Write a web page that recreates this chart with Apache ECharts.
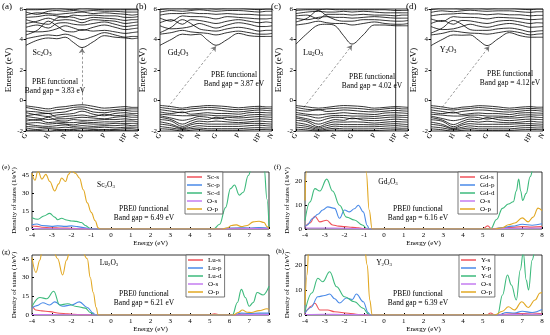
<!DOCTYPE html>
<html><head><meta charset="utf-8">
<script src="https://cdn.jsdelivr.net/npm/echarts@6/dist/echarts.min.js"></script>
<style>html,body{margin:0;padding:0;background:#fff}#c{width:550px;height:335px}</style>
</head><body><div id="c"></div>
<script>
// ---------- band-structure data ----------
const KX = [0,0.1,0.2,0.275,0.35,0.425,0.5,0.6,0.7,0.795,0.89,0.945,1];
const KTICKS = [0,0.2,0.35,0.5,0.7,0.89,1];
const KLABELS = ['G','H','N','G','P','HP','N'];
const HP_K = 0.89;

const CB_A = [
[3.62,3.95,4.10,4.05,4.15,3.80,3.47,3.85,4.25,4.15,4.10,4.05,4.10],
[4.05,4.20,4.30,4.25,4.35,4.20,4.00,4.20,4.45,4.30,4.15,4.20,4.20],
[4.30,4.60,5.20,4.90,4.55,4.50,4.65,4.55,4.60,4.50,4.40,4.45,4.50],
[4.55,4.50,4.55,4.70,4.90,4.75,4.60,4.80,4.95,4.80,4.65,4.70,4.75],
[4.80,4.95,4.75,5.05,5.10,5.00,4.95,5.05,5.15,5.00,4.85,4.90,4.95],
[5.05,5.20,5.40,5.25,5.30,5.25,5.10,5.30,5.25,5.20,5.05,5.10,5.15],
[5.30,5.10,5.00,5.40,5.50,5.45,5.30,5.45,5.40,5.35,5.25,5.30,5.30],
[5.45,5.50,5.60,5.55,5.45,5.60,5.55,5.60,5.55,5.55,5.45,5.45,5.50],
[5.60,5.75,5.70,5.65,5.70,5.75,5.80,5.70,5.75,5.70,5.65,5.60,5.65],
[5.80,5.65,5.85,5.90,5.85,5.90,5.85,5.90,5.85,5.85,5.80,5.80,5.80],
[5.95,5.95,6.00,6.05,6.00,5.95,6.05,6.00,5.95,5.95,5.95,5.95,5.95]
];
const VB_A = [
[-0.35,-0.45,-0.55,-0.45,-0.40,-0.32,-0.28,-0.38,-0.50,-0.45,-0.40,-0.45,-0.45],
[-0.45,-0.60,-0.70,-0.60,-0.55,-0.45,-0.42,-0.55,-0.65,-0.60,-0.55,-0.55,-0.55],
[-0.70,-0.75,-0.85,-0.80,-0.75,-0.60,-0.55,-0.75,-0.80,-0.70,-0.65,-0.70,-0.70],
[-0.80,-0.95,-1.05,-0.95,-0.90,-0.85,-0.70,-0.90,-1.00,-0.85,-0.80,-0.85,-0.85],
[-1.00,-0.90,-0.85,-1.10,-1.05,-1.00,-0.95,-1.05,-0.90,-1.00,-0.95,-0.95,-1.00],
[-1.05,-1.15,-1.25,-1.20,-1.20,-1.15,-1.10,-1.15,-1.20,-1.10,-1.05,-1.10,-1.10],
[-1.20,-1.30,-1.10,-1.30,-1.35,-1.25,-1.30,-1.30,-1.25,-1.25,-1.20,-1.25,-1.25],
[-1.35,-1.25,-1.45,-1.40,-1.45,-1.45,-1.40,-1.45,-1.40,-1.40,-1.35,-1.35,-1.40],
[-1.50,-1.45,-1.55,-1.50,-1.55,-1.60,-1.50,-1.55,-1.55,-1.50,-1.50,-1.50,-1.50],
[-1.55,-1.65,-1.70,-1.65,-1.60,-1.70,-1.65,-1.70,-1.65,-1.65,-1.60,-1.65,-1.60],
[-1.70,-1.75,-1.80,-1.80,-1.75,-1.80,-1.80,-1.80,-1.75,-1.80,-1.75,-1.75,-1.75],
[-1.80,-1.90,-1.85,-1.90,-1.90,-1.90,-1.85,-1.90,-1.90,-1.90,-1.85,-1.85,-1.90],
[-1.95,-1.95,-2.05,-1.95,-2.00,-1.95,-2.00,-1.95,-2.00,-1.95,-1.95,-1.95,-1.95]
];
const CB_B = [
[3.62,4.00,4.35,4.30,4.35,3.95,3.62,4.00,4.40,4.25,4.20,4.20,4.20],
[4.35,4.45,4.60,4.50,4.45,4.40,4.30,4.45,4.55,4.45,4.35,4.35,4.40],
[4.45,4.80,5.30,5.05,4.70,4.60,4.55,4.70,4.80,4.70,4.55,4.60,4.60],
[4.90,4.70,4.75,4.85,5.05,4.90,4.75,4.95,5.10,5.00,4.85,4.85,4.90],
[5.10,5.30,5.00,5.30,5.25,5.15,5.05,5.20,5.30,5.20,5.10,5.15,5.10],
[5.40,5.20,5.55,5.50,5.50,5.45,5.35,5.50,5.45,5.40,5.35,5.35,5.40],
[5.60,5.70,5.70,5.75,5.70,5.70,5.65,5.70,5.65,5.65,5.60,5.60,5.60],
[5.80,5.90,5.85,5.90,5.95,5.90,5.85,5.90,5.90,5.85,5.80,5.85,5.85],
[5.95,6.05,6.05,6.00,6.05,6.05,6.00,6.05,6.05,6.00,5.95,6.00,6.00]
];
const VB_B = [
[-0.32,-0.40,-0.50,-0.42,-0.38,-0.33,-0.35,-0.40,-0.48,-0.42,-0.38,-0.42,-0.42],
[-0.45,-0.55,-0.60,-0.55,-0.50,-0.45,-0.48,-0.55,-0.60,-0.55,-0.50,-0.52,-0.55],
[-0.60,-0.70,-0.80,-0.70,-0.65,-0.60,-0.62,-0.70,-0.75,-0.68,-0.62,-0.65,-0.68],
[-0.75,-0.85,-0.75,-0.90,-0.85,-0.80,-0.85,-0.85,-0.90,-0.80,-0.78,-0.80,-0.82],
[-0.90,-0.95,-1.00,-1.00,-0.95,-0.95,-1.00,-1.00,-1.05,-0.95,-0.92,-0.95,-0.95],
[-1.00,-1.15,-1.30,-1.20,-1.05,-1.10,-1.20,-1.10,-1.15,-1.10,-1.05,-1.08,-1.10],
[-1.10,-1.25,-1.55,-1.35,-1.20,-1.25,-1.10,-1.25,-1.30,-1.25,-1.20,-1.22,-1.25],
[-1.25,-1.35,-1.70,-1.50,-1.35,-1.40,-1.35,-1.40,-1.45,-1.40,-1.35,-1.38,-1.40],
[-1.40,-1.55,-1.80,-1.60,-1.50,-1.55,-1.55,-1.55,-1.55,-1.50,-1.50,-1.52,-1.55],
[-1.55,-1.65,-1.85,-1.75,-1.65,-1.70,-1.70,-1.70,-1.70,-1.65,-1.62,-1.65,-1.68],
[-1.70,-1.80,-1.90,-1.85,-1.80,-1.85,-1.85,-1.85,-1.85,-1.80,-1.78,-1.80,-1.80],
[-1.85,-1.90,-2.00,-1.95,-1.90,-1.95,-1.95,-1.95,-1.95,-1.92,-1.90,-1.90,-1.92]
];
const CB_C = [
[3.70,4.40,4.95,5.00,4.90,4.25,3.70,4.30,4.95,4.95,4.90,4.90,4.90],
[4.95,5.05,5.20,5.10,5.05,5.05,4.95,5.05,5.15,5.05,5.00,5.00,5.05],
[5.15,5.40,5.90,5.55,5.30,5.20,5.20,5.30,5.30,5.25,5.20,5.20,5.25],
[5.40,5.30,5.45,5.50,5.45,5.45,5.40,5.45,5.50,5.45,5.40,5.40,5.40],
[5.55,5.60,5.35,5.65,5.65,5.65,5.60,5.65,5.60,5.60,5.55,5.60,5.60],
[5.70,5.80,5.85,5.80,5.80,5.85,5.80,5.85,5.80,5.75,5.75,5.75,5.75],
[5.90,5.95,5.95,6.00,5.95,5.95,5.95,5.95,5.95,5.95,5.90,5.90,5.90]
];
const VB_C = [
[-0.33,-0.42,-0.50,-0.45,-0.38,-0.33,-0.35,-0.40,-0.50,-0.45,-0.40,-0.42,-0.45],
[-0.45,-0.58,-0.62,-0.55,-0.52,-0.48,-0.50,-0.55,-0.62,-0.55,-0.50,-0.55,-0.55],
[-0.62,-0.70,-0.60,-0.72,-0.68,-0.62,-0.65,-0.72,-0.75,-0.70,-0.65,-0.68,-0.70],
[-0.78,-0.90,-0.95,-0.88,-0.85,-0.80,-0.85,-0.88,-0.92,-0.82,-0.80,-0.82,-0.85],
[-0.92,-1.00,-1.15,-1.05,-0.98,-0.98,-1.02,-1.02,-1.05,-0.98,-0.95,-0.98,-0.98],
[-1.05,-1.20,-1.35,-1.20,-1.10,-1.12,-1.20,-1.15,-1.18,-1.12,-1.08,-1.10,-1.12],
[-1.15,-1.30,-1.55,-1.40,-1.25,-1.30,-1.15,-1.28,-1.32,-1.28,-1.22,-1.25,-1.28],
[-1.30,-1.40,-1.72,-1.52,-1.40,-1.42,-1.40,-1.42,-1.48,-1.42,-1.38,-1.40,-1.42],
[-1.45,-1.58,-1.80,-1.65,-1.55,-1.58,-1.58,-1.58,-1.60,-1.55,-1.52,-1.55,-1.58],
[-1.60,-1.70,-1.88,-1.78,-1.68,-1.72,-1.72,-1.72,-1.72,-1.68,-1.65,-1.68,-1.70],
[-1.75,-1.82,-1.95,-1.88,-1.82,-1.86,-1.86,-1.86,-1.86,-1.82,-1.80,-1.82,-1.82],
[-1.88,-1.93,-2.02,-1.97,-1.93,-1.96,-1.96,-1.96,-1.97,-1.94,-1.92,-1.92,-1.94]
];
const CB_D = [
[3.60,4.00,4.30,4.28,4.30,3.95,3.60,4.05,4.45,4.25,4.15,4.15,4.15],
[4.30,4.40,4.55,4.48,4.42,4.40,4.35,4.45,4.55,4.45,4.30,4.35,4.38],
[4.42,4.75,5.25,5.00,4.65,4.60,4.60,4.70,4.75,4.65,4.50,4.55,4.58],
[4.85,4.65,4.70,4.85,5.00,4.88,4.80,4.95,5.05,4.95,4.80,4.82,4.85],
[5.05,5.25,5.00,5.25,5.22,5.12,5.05,5.20,5.25,5.15,5.05,5.10,5.08],
[5.35,5.18,5.50,5.45,5.45,5.42,5.35,5.45,5.42,5.38,5.30,5.32,5.35],
[5.55,5.65,5.68,5.72,5.68,5.68,5.62,5.68,5.62,5.62,5.55,5.58,5.58],
[5.78,5.88,5.82,5.88,5.92,5.88,5.85,5.88,5.88,5.82,5.78,5.82,5.82],
[5.95,6.05,6.05,6.00,6.05,6.05,6.00,6.05,6.05,6.00,5.95,6.00,6.00]
];
const VB_D = [
[-0.33,-0.42,-0.52,-0.44,-0.40,-0.34,-0.36,-0.42,-0.50,-0.44,-0.40,-0.44,-0.44],
[-0.46,-0.56,-0.62,-0.56,-0.52,-0.46,-0.50,-0.56,-0.62,-0.56,-0.52,-0.54,-0.56],
[-0.62,-0.72,-0.82,-0.72,-0.66,-0.62,-0.64,-0.72,-0.76,-0.70,-0.64,-0.66,-0.70],
[-0.76,-0.86,-0.76,-0.92,-0.86,-0.82,-0.86,-0.86,-0.92,-0.82,-0.80,-0.82,-0.84],
[-0.90,-0.96,-1.02,-1.02,-0.96,-0.96,-1.02,-1.02,-1.06,-0.96,-0.94,-0.96,-0.96],
[-1.02,-1.18,-1.32,-1.22,-1.08,-1.12,-1.22,-1.12,-1.16,-1.12,-1.06,-1.10,-1.12],
[-1.12,-1.28,-1.58,-1.38,-1.22,-1.26,-1.12,-1.26,-1.32,-1.26,-1.22,-1.24,-1.26],
[-1.26,-1.36,-1.72,-1.52,-1.36,-1.42,-1.36,-1.42,-1.46,-1.42,-1.36,-1.40,-1.42],
[-1.42,-1.56,-1.82,-1.62,-1.52,-1.56,-1.56,-1.56,-1.56,-1.52,-1.52,-1.54,-1.56],
[-1.56,-1.66,-1.86,-1.76,-1.66,-1.72,-1.72,-1.72,-1.72,-1.66,-1.64,-1.66,-1.68],
[-1.72,-1.80,-1.92,-1.86,-1.80,-1.86,-1.86,-1.86,-1.86,-1.80,-1.78,-1.80,-1.80],
[-1.86,-1.92,-2.02,-1.96,-1.92,-1.96,-1.96,-1.96,-1.96,-1.92,-1.90,-1.90,-1.92]
];
// band-gap arrows (k, eV)
const ARROW_A = [[0.5,-0.25],[0.5,3.42]];
const ARROW_B = [[0.07,-0.45],[0.5,3.55]];
const ARROW_C = [[0.07,-0.45],[0.5,3.62]];
const ARROW_D = [[0.1,-0.45],[0.52,3.55]];
const GAP_PBE = ['3.83','3.87','4.02','4.12'];

// ---------- DOS data [E (eV), DOS (1/eV)] ----------
const SC_S = [[-4,2.5],[-3.75,2.2],[-3.5,1.5],[-3,1.1],[-2.5,0.8],[-2,0.6],[-1.5,0.3],[-1.2,0.1],[-1,0],[5.5,0],[6,0.4],[6.5,0.6],[7,0.5],[7.5,0.7],[8,0.4]];
const SC_P = [[-4,3.5],[-3.75,4.2],[-3.5,3],[-3,2.2],[-2.7,2.6],[-2.3,2.2],[-2,2.6],[-1.7,2],[-1.4,1.2],[-1.1,0.4],[-0.9,0],[5.4,0],[6,0.8],[6.5,1],[7,0.9],[7.5,1.2],[8,0.8]];
const SC_D = [[-4,9.5],[-3.7,8.2],[-3.4,11],[-3.1,13.2],[-2.85,10],[-2.7,7.8],[-2.5,9],[-2.25,7.6],[-2,6.8],[-1.75,6.4],[-1.5,5.5],[-1.3,3],[-1.1,0.8],[-0.9,0],[5.2,0],[5.5,4],[5.8,18],[6.05,34],[6.25,37],[6.5,28.5],[6.7,31],[6.95,45],[7.2,56],[7.5,58],[7.75,52],[7.9,25],[8,2]];
const SC_OS = [[-4,0.3],[-3,0.2],[-2,0.2],[-1,0.05],[-0.8,0],[5.5,0],[6,0.2],[7,0.3],[8,0.2]];
const SC_OP = [[-4,47],[-3.85,41],[-3.7,49],[-3.5,42],[-3.3,46],[-3.1,40],[-2.85,32],[-2.65,38],[-2.5,43],[-2.3,40],[-2.15,46],[-2,49],[-1.8,47],[-1.6,43],[-1.4,33],[-1.2,22],[-1,14],[-0.8,7],[-0.65,1],[-0.55,0],[5.6,0],[5.9,1],[6.1,3],[6.35,3.5],[6.6,2],[6.9,3],[7.2,6],[7.5,6.5],[7.75,5.5],[7.9,2],[8,0.5]];

const GD_S = [[-4,0.8],[-3.75,2.5],[-3.5,5.4],[-3.25,3],[-2.9,3.7],[-2.6,1.7],[-2.3,1.2],[-2,1],[-1.6,0.7],[-1.3,0.5],[-1,0.1],[-0.8,0],[5,0],[5.25,1.3],[5.45,0],[5.8,0.3],[6.3,0.6],[7,1],[7.5,0.8],[8,1]];
const GD_P = [[-4,1],[-3.9,1.7],[-3.6,4.5],[-3.35,6.2],[-3.1,8],[-2.85,9.3],[-2.5,8.7],[-2.25,4.5],[-2,8],[-1.75,7.2],[-1.5,8.5],[-1.3,10],[-1.05,7.2],[-0.85,1.5],[-0.75,0],[5.5,0],[6,0.6],[6.5,1.2],[7,2],[7.5,1.6],[8,2.2]];
const GD_D = [[-4,3.5],[-3.75,11.4],[-3.5,17],[-3.25,16],[-2.9,21],[-2.6,16],[-2.25,10],[-1.9,5],[-1.5,3.8],[-1.1,1.7],[-0.85,0.2],[-0.75,0],[5.4,0],[5.7,4],[6,8.7],[6.3,10.5],[6.55,11.5],[6.7,16],[6.82,21],[6.92,16],[7.02,12],[7.2,15],[7.4,22],[7.6,27],[8,30]];
const GD_OS = [[-4,0.4],[-3,0.4],[-2,0.3],[-1,0.1],[-0.8,0],[5.5,0],[6.5,0.3],[8,0.4]];
const GD_OP = [[-4,12],[-3.93,24],[-3.8,30],[-1,30],[-0.9,24],[-0.75,8],[-0.6,0],[5.6,0],[6.0,0.5],[6.3,1.8],[6.63,2.5],[7.0,4.7],[7.3,3],[7.55,5],[7.8,8.8],[8,7.7]];

const LU_S = [[-4,8],[-3.8,4],[-3.5,3.3],[-3.1,2.7],[-2.6,1.4],[-2.2,0.9],[-1.9,0.6],[-1.5,0.3],[-1.1,0.1],[-0.9,0],[5,0],[5.25,1],[5.5,0],[6.2,0],[6.6,0.6],[7,0.8],[7.5,0.6],[8,0.5]];
const LU_P = [[-4,5.5],[-3.75,7.5],[-3.45,9.8],[-3.1,8],[-2.85,10.5],[-2.45,7],[-2,8],[-1.6,10.5],[-1.2,6],[-0.9,1.5],[-0.8,0],[6.2,0],[6.6,1.5],[7,1.2],[7.5,1.5],[8,1.5]];
const LU_D = [[-4,6.8],[-3.6,14],[-3.25,13],[-2.9,19],[-2.6,8],[-2.2,9],[-1.75,6.8],[-1.3,5.5],[-1.05,2],[-0.85,0],[6.15,0],[6.4,10],[6.6,20.5],[6.8,14],[7.0,7],[7.2,10],[7.4,18],[7.7,16],[8,23]];
const LU_OS = [[-4,0.3],[-3,0.3],[-2,0.2],[-1,0.1],[-0.8,0],[6.2,0],[7,0.3],[8,0.3]];
const LU_OP = [[-4,46],[-3.8,34],[-3.6,44],[-3.5,50],[-3.2,52],[-2.9,50],[-2.7,45],[-2.45,32],[-2.25,44],[-2.1,50],[-1.5,52],[-1.2,45],[-1.05,30],[-0.9,18],[-0.75,6],[-0.65,0],[6.2,0],[6.45,2],[6.65,4],[6.9,2.2],[7.1,2],[7.5,3.5],[7.9,5],[8,4.5]];

const Y_S = [[-4,0.5],[-3.9,2],[-3.7,3.5],[-3.5,4.7],[-3.25,2],[-2.85,2],[-2.5,1.3],[-1.8,0.7],[-1.3,0.2],[-1.0,0],[5.2,0],[5.4,0.8],[5.6,0],[6,0.3],[6.5,0.5],[7,0.6],[7.5,0.8],[8,0.5]];
const Y_P = [[-4,0.7],[-3.7,3],[-3.35,7.3],[-3.0,7.8],[-2.75,8.4],[-2.5,6.5],[-2.25,4.8],[-1.9,6.8],[-1.6,6.2],[-1.4,8.4],[-1.05,5.3],[-0.8,1],[-0.7,0],[5.8,0],[6.2,1],[6.6,0.8],[7,1.5],[7.5,1],[8,2.2]];
const Y_D = [[-4,1.3],[-3.65,8.8],[-3.35,14.7],[-3.1,13.3],[-2.75,17.3],[-2.4,11.3],[-2,7.3],[-1.5,5.3],[-1.05,2.7],[-0.8,0.5],[-0.7,0],[5.75,0],[6.0,8],[6.25,16],[6.45,12],[6.7,6],[6.9,18],[7.05,25],[7.2,14],[7.32,10],[7.5,22],[7.7,28],[8,30]];
const Y_OS = [[-4,0.2],[-3,0.3],[-2,0.2],[-1,0.1],[-0.8,0],[5.8,0],[7,0.3],[8,0.3]];
const Y_OP = [[-4,4],[-3.9,16],[-3.8,28],[-1,28],[-0.85,20],[-0.72,6],[-0.6,0],[5.6,0],[6.0,1.5],[6.3,3.3],[6.6,2],[6.98,5.3],[7.3,3],[7.65,6],[7.9,8.8],[8,9]];
const GAP_PBE0 = ['6.49','6.16','6.21','6.39'];
const DOS_YMAX = [48,24,48,24];
const DOS_YINT = [15,10,15,10];

// ---------- styling / layout ----------
const FONT = "'Liberation Serif','Times New Roman',serif";
const COLORS = {s:'#f0525a', p:'#4a8ae8', d:'#3dba7c', os:'#c47cf0', op:'#e2a823'};
const chart = echarts.init(document.getElementById('c'), null, {renderer:'canvas'});

const bandGrids = [
  {left:26, top:9, width:112, height:122},
  {left:160, top:9, width:112, height:122},
  {left:296, top:9, width:112, height:122},
  {left:431, top:9, width:112, height:122}
];
const dosGrids = [
  {left:32, top:172, width:237, height:57},
  {left:305, top:172, width:237, height:57},
  {left:32, top:255, width:237, height:60},
  {left:305, top:255, width:237, height:60}
];
const grid = bandGrids.concat(dosGrids).map(g => Object.assign({show:true, borderColor:'#000', borderWidth:0.8, containLabel:false}, g));

const xAxis = [], yAxis = [], series = [];
const bandSets = [[CB_A,VB_A,ARROW_A],[CB_B,VB_B,ARROW_B],[CB_C,VB_C,ARROW_C],[CB_D,VB_D,ARROW_D]];
bandSets.forEach((set, gi) => {
  xAxis.push({gridIndex:gi, type:'value', min:0, max:1, position:'bottom',
    axisLine:{show:false, onZero:false}, splitLine:{show:false},
    axisTick:{show:true, customValues:KTICKS, length:2, inside:true, lineStyle:{color:'#000'}},
    axisLabel:{show:true, customValues:KTICKS, rotate:60, margin:3, fontSize:7, fontFamily:FONT, color:'#000',
      formatter:(v)=>{const i=KTICKS.findIndex(t=>Math.abs(t-v)<1e-6); return i>=0?KLABELS[i]:'';}}});
  yAxis.push({gridIndex:gi, type:'value', min:-2, max:6, interval:2, position:'left',
    name:'Energy (eV)', nameLocation:'middle', nameGap:9, nameTextStyle:{fontSize:9, fontFamily:FONT, color:'#000'},
    axisLine:{show:false, onZero:false}, splitLine:{show:false},
    axisTick:{show:true, length:2.5, lineStyle:{color:'#000'}},
    axisLabel:{fontSize:7, fontFamily:FONT, color:'#000', margin:3}});
  [set[0], set[1]].forEach(bands => bands.forEach(b => series.push({
    type:'line', xAxisIndex:gi, yAxisIndex:gi, data:KX.map((k,i)=>[k,b[i]]),
    smooth:0.35, showSymbol:false, symbol:'none', silent:true,
    lineStyle:{color:'#000', width:0.8}, z:2})));
  series.push({type:'line', xAxisIndex:gi, yAxisIndex:gi, data:[[HP_K,-2],[HP_K,6]], showSymbol:false, symbol:'none',
    silent:true, lineStyle:{color:'#000', width:0.8}});
  series.push({type:'lines', coordinateSystem:'cartesian2d', xAxisIndex:gi, yAxisIndex:gi,
    data:[{coords:set[2]}], symbol:['none','arrow'], symbolSize:5, silent:true, z:5,
    lineStyle:{color:'#000', width:0.8, type:[2.5,2], curveness:0}});
});

const dosSets = [
  [['Sc-s',SC_S],['Sc-p',SC_P],['Sc-d',SC_D],['O-s',SC_OS],['O-p',SC_OP]],
  [['Gd-s',GD_S],['Gd-p',GD_P],['Gd-d',GD_D],['O-s',GD_OS],['O-p',GD_OP]],
  [['Lu-s',LU_S],['Lu-p',LU_P],['Lu-d',LU_D],['O-s',LU_OS],['O-p',LU_OP]],
  [['Y-s',Y_S],['Y-p',Y_P],['Y-d',Y_D],['O-s',Y_OS],['O-p',Y_OP]]
];
const ckeys = ['s','p','d','os','op'];
dosSets.forEach((set, j) => {
  const gi = 4 + j;
  xAxis.push({gridIndex:gi, type:'value', min:-4, max:8, interval:1, position:'bottom',
    name:'Energy (eV)', nameLocation:'middle', nameGap:11, nameTextStyle:{fontSize:7, fontFamily:FONT, color:'#000'},
    axisLine:{show:false, onZero:false}, splitLine:{show:false},
    axisTick:{show:true, inside:true, length:2, lineStyle:{color:'#000'}},
    axisLabel:{fontSize:7, fontFamily:FONT, color:'#000', margin:3}});
  yAxis.push({gridIndex:gi, type:'value', min:0, max:DOS_YMAX[j], interval:DOS_YINT[j], position:'left',
    name:'Density of states (1/eV)', nameLocation:'middle', nameGap:13, nameTextStyle:{fontSize:7, fontFamily:FONT, color:'#000'},
    axisLine:{show:false, onZero:false}, splitLine:{show:false},
    axisTick:{show:true, inside:true, length:2, lineStyle:{color:'#000'}},
    axisLabel:{fontSize:7, fontFamily:FONT, color:'#000', margin:3, showMaxLabel:false}});
  set.forEach((s, k) => series.push({
    type:'line', name:s[0], xAxisIndex:gi, yAxisIndex:gi, data:s[1],
    smooth:0.4, smoothMonotone:'x', showSymbol:false, symbol:'none', silent:true,
    color:COLORS[ckeys[k]], lineStyle:{color:COLORS[ckeys[k]], width:1.1}, z:3}));
});

const legendPos = [[185,172],[458,172],[186,255],[459,255]];
const legend = dosSets.map((set, j) => ({
  left:legendPos[j][0], top:legendPos[j][1], orient:'vertical', data:set.map(s=>s[0]),
  icon:'rect', itemWidth:15, itemHeight:1.5, itemGap:0, padding:[1,3,1,2],
  borderColor:'#555', borderWidth:0.8, backgroundColor:'#fff', selectedMode:false,
  textStyle:{fontSize:7, fontFamily:FONT, color:'#000', lineHeight:8}
}));

function txt(x, y, text, size, align) {
  return {type:'text', x:x, y:y, silent:true, z:100, style:{text:text, fill:'#000',
    font:size+'px '+FONT, fontSize:size, fontFamily:FONT, align:align||'center', textAlign:align||'center',
    verticalAlign:'middle', textVerticalAlign:'middle',
    rich:{sub:{fontSize:size*0.65, fontFamily:FONT, fill:'#000', padding:[size*0.45,0,0,0]},
          n:{fontSize:size, fontFamily:FONT, fill:'#000'}}}};
}
const formulas = ['{n|Sc}{sub|2}{n|O}{sub|3}','{n|Gd}{sub|2}{n|O}{sub|3}','{n|Lu}{sub|2}{n|O}{sub|3}','{n|Y}{sub|2}{n|O}{sub|3}'];
const graphic = [
  txt(2,7,'(a)',9,'left'), txt(136,7,'(b)',9,'left'), txt(271,7,'(c)',9,'left'), txt(406,7,'(d)',9,'left'),
  txt(2,167,'(e)',7,'left'), txt(274,167,'(f)',7,'left'), txt(2,252,'(g)',7,'left'), txt(276,251,'(h)',7,'left'),
  txt(42,53,formulas[0],8), txt(178,53,formulas[1],8), txt(313,53,formulas[2],8), txt(448,50,formulas[3],8),
  txt(55,82,'PBE functional',7.5), txt(55,91,'Band gap = '+GAP_PBE[0]+' eV',7.5),
  txt(234,75,'PBE functional',7.5), txt(234,84,'Band gap = '+GAP_PBE[1]+' eV',7.5),
  txt(372,77,'PBE functional',7.5), txt(372,86,'Band gap = '+GAP_PBE[2]+' eV',7.5),
  txt(510,74,'PBE functional',7.5), txt(510,83,'Band gap = '+GAP_PBE[3]+' eV',7.5),
  txt(106,185,formulas[0],7.5), txt(388,182,formulas[1],7.5), txt(109,263,formulas[2],7.5), txt(384,263,formulas[3],7.5),
  txt(144,209,'PBE0 functional',7.5), txt(144,218,'Band gap = '+GAP_PBE0[0]+' eV',7.5),
  txt(418,209,'PBE0 functional',7.5), txt(418,218,'Band gap = '+GAP_PBE0[1]+' eV',7.5),
  txt(144,294,'PBE0 functional',7.5), txt(144,303,'Band gap = '+GAP_PBE0[2]+' eV',7.5),
  txt(418,294,'PBE0 functional',7.5), txt(418,303,'Band gap = '+GAP_PBE0[3]+' eV',7.5)
];

chart.setOption({animation:false, backgroundColor:'#fff', grid, xAxis, yAxis, series, legend, graphic});
</script></body></html>
